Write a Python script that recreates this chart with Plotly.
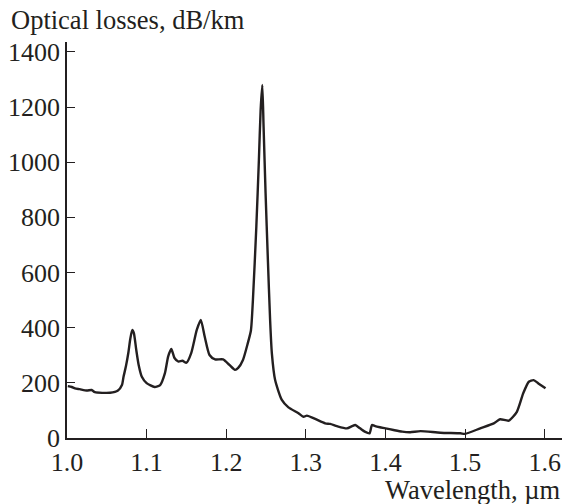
import plotly.graph_objects as go

wavelength = [1.001, 1.006, 1.010, 1.016, 1.025, 1.031, 1.035, 1.054, 1.064, 1.069,
              1.071, 1.074, 1.077, 1.0795, 1.082, 1.084, 1.087, 1.090, 1.094, 1.100,
              1.110, 1.117, 1.123, 1.127, 1.131, 1.135, 1.140, 1.145, 1.150, 1.156,
              1.163, 1.168, 1.173, 1.179, 1.186, 1.196, 1.204, 1.211, 1.215, 1.221,
              1.227, 1.231, 1.2335, 1.2378, 1.241, 1.2432, 1.2453, 1.2469, 1.2494, 1.2523,
              1.2551, 1.2573, 1.2614, 1.2698, 1.2781, 1.2907, 1.297, 1.3013, 1.3117, 1.3243,
              1.3305, 1.339, 1.3515, 1.358, 1.362, 1.368, 1.374, 1.380, 1.383, 1.387,
              1.393, 1.400, 1.410, 1.421, 1.431, 1.444, 1.469, 1.494, 1.500, 1.519,
              1.536, 1.544, 1.555, 1.565, 1.573, 1.580, 1.586, 1.592, 1.601]
losses = [188, 185, 180, 177, 172, 174, 166, 164, 172, 192,
          222, 260, 308, 360, 392, 380, 319, 265, 222, 199,
          185, 192, 235, 295, 323, 290, 277, 280, 273, 308,
          392, 428, 367, 301, 285, 285, 265, 247, 254, 283,
          343, 390, 500, 767, 1008, 1190, 1280, 1129, 889, 646,
          428, 307, 210, 138, 111, 90, 77, 81, 69, 53,
          51, 43, 35, 43, 47, 35, 23, 17, 47, 43,
          39, 35, 29, 23, 21, 25, 19, 17, 15, 35,
          53, 68, 63, 95, 162, 204, 210, 198, 180]

x_ticks = [1.0, 1.1, 1.2, 1.3, 1.4, 1.5, 1.6]
y_ticks = [0, 200, 400, 600, 800, 1000, 1200, 1400]

FONT = "Liberation Serif"
INK = "#231f20"

fig = go.Figure()
fig.add_trace(go.Scatter(x=wavelength, y=losses, mode="lines",
                         line=dict(color=INK, width=2.4, shape="spline", smoothing=0.6),
                         hoverinfo="skip", showlegend=False))

fig.update_layout(
    width=567, height=504,
    margin=dict(l=67, r=5, t=42, b=66),
    paper_bgcolor="white", plot_bgcolor="white",
    font=dict(family=FONT, color=INK, size=26),
    xaxis=dict(range=[1.0, 1.6217], tickvals=x_ticks, tickformat=".1f",
               showline=True, linecolor=INK, linewidth=1.5, ticks="inside",
               ticklen=9, tickcolor=INK, tickwidth=1.2, showgrid=False,
               zeroline=False, tickfont=dict(size=26, family=FONT, color=INK)),
    yaxis=dict(range=[0, 1436], tickvals=y_ticks,
               showline=True, linecolor=INK, linewidth=1.5, ticks="inside",
               ticklen=8, tickcolor=INK, tickwidth=1.2, showgrid=False,
               zeroline=False, tickfont=dict(size=26, family=FONT, color=INK)),
    annotations=[
        dict(text="Optical losses, dB/km", xref="paper", yref="paper",
             x=-58/494.7, y=1 + 5/396, xanchor="left", yanchor="bottom",
             showarrow=False, font=dict(size=26.5, family=FONT, color=INK)),
        dict(text="Wavelength, µm", xref="paper", yref="paper",
             x=1.0, y=-35/396, xanchor="right", yanchor="top",
             showarrow=False, font=dict(size=26.5, family=FONT, color=INK)),
    ],
)

fig.write_html("out.html", config={"displayModeBar": False},
               post_script="document.body.style.margin='0';document.body.style.overflow='hidden';")
